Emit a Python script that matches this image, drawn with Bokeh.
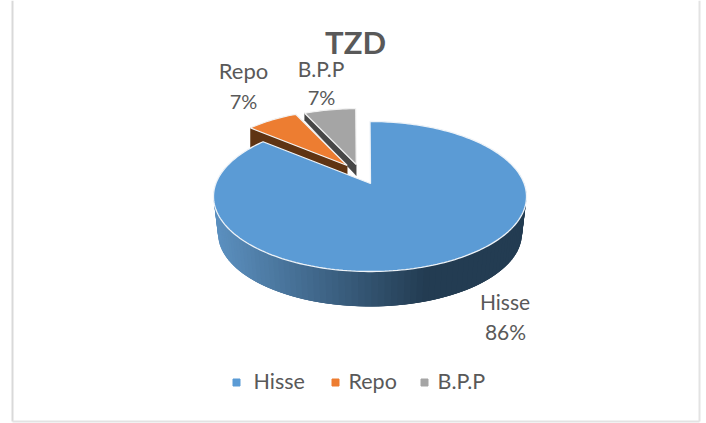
import math
from bokeh.plotting import figure
from bokeh.embed import file_html
from bokeh.resources import INLINE
from bokeh.core.properties import value

# ---- data
categories = ["Hisse", "Repo", "B.P.P"]
values = [86, 7, 7]
labels = ["86%", "7%", "7%"]
colors = ["#5b9bd5", "#ed7d31", "#a5a5a5"]
wall_colors = ["#2d4f70", "#5f3413", "#474747"]
title = "TZD"

# ---- layout (pixels of the 706x423 page)
W, H = 706, 423
CX, CY, RX, RY = 369.5, 196.0, 156.5, 75.0   # top ellipse
BOT_CY, BOT_RX, BOT_RY = 233.0, 152.0, 73.0  # bottom ellipse of the side
PERSP = 13.0 / 75.0                          # apex offset of the perspective
SHRINK = 0.9                                 # small slices are further away
APEX = {"Hisse": (370, 183), "Repo": (346.7, 165), "B.P.P": (355.7, 164)}
TEXT = "#595959"
FONT = "Lato"

p = figure(width=W, height=H, x_range=(0, W), y_range=(H, 0), toolbar_location=None,
           output_backend="svg", min_border=0, outline_line_color=None,
           background_fill_color="white", border_fill_color="white",
           margin=0)
p.axis.visible = False
p.grid.visible = False


def unit(theta):
    """Perspective point on the unit ellipse for clockwise angle from 12 o'clock."""
    x, u = math.sin(theta), math.cos(theta)
    d = 1 + PERSP * u
    return math.sqrt(1 - PERSP ** 2) * x / d, (u + PERSP) / d


def mix(a, b, t):
    ca = [int(a[i:i + 2], 16) for i in (1, 3, 5)]
    cb = [int(b[i:i + 2], 16) for i in (1, 3, 5)]
    return "#%02x%02x%02x" % tuple(round(x + (y - x) * t) for x, y in zip(ca, cb))


total = sum(values)
angles = [0.0]
for v in values:
    angles.append(angles[-1] + 2 * math.pi * v / total)

# page frame
p.line([12, 12], [0, 421], line_color="#d9d9d9", line_width=2)
p.line([12, 699], [421, 421], line_color="#e3e3e3", line_width=2)
p.line([699, 699], [0, 421], line_color="#e3e3e3", line_width=2)


def small_slice(i, depth_rim, depth_apex):
    a0, a1 = angles[i], angles[i + 1]
    ax, ay = APEX[categories[i]]
    n = 16
    rim = []
    # the rim is shaped like the main ellipse, relative to the main apex
    for k in range(n + 1):
        X, Y = unit(a0 + (a1 - a0) * k / n)
        px = CX + RX * X - APEX["Hisse"][0]
        py = CY - RY * Y - APEX["Hisse"][1]
        rim.append((ax + SHRINK * px, ay + SHRINK * py))
    # left wall
    x0, y0 = rim[0]
    p.patch([x0, ax, ax, x0], [y0, ay, ay + depth_apex, y0 + depth_rim],
            fill_color=wall_colors[i], line_color=wall_colors[i], line_width=0.5)
    p.patch([ax] + [q[0] for q in rim], [ay] + [q[1] for q in rim],
            fill_color=colors[i], line_color="#f2f2f2", line_width=1.2)


small_slice(2, 7, 11)
small_slice(1, 28, 28)

# Hisse: side, painted as overlapping bands from the far right end to the left
a0, a1 = angles[0], angles[1]
xs, ys, cs = [], [], []
N = 150
for k in range(N):
    t0 = a0 + (a1 - a0) * k / N
    X0, Y0 = unit(t0)
    if Y0 > 0.35:
        continue
    t1 = a0 + (a1 - a0) * min(k + 3, N) / N
    X1, Y1 = unit(t1)
    xs.append([CX + RX * X0, CX + RX * X1, CX + BOT_RX * X1, CX + BOT_RX * X0])
    ys.append([CY - RY * Y0, CY - RY * Y1, BOT_CY - BOT_RY * Y1, BOT_CY - BOT_RY * Y0])
    g = min(1.0, max(0.0, (X0 + 0.97) / 1.35))
    cs.append(mix("#5b8fbe", "#233c52", g))
p.patches(xs, ys, fill_color=cs, line_color=None)

# Hisse: top
rim = [unit(a0 + (a1 - a0) * k / 240) for k in range(241)]
ax, ay = APEX["Hisse"]
p.patch([ax] + [CX + RX * q[0] for q in rim], [ay] + [CY - RY * q[1] for q in rim],
        fill_color=colors[0], line_color="#eef3f8", line_width=1.3)


def txt(x, y, s, size, style="normal", anchor="center"):
    p.text([x], [y], text=[s], text_font=value(FONT), text_font_size=size,
           text_font_style=style, text_color=TEXT, text_align=anchor, text_baseline="middle")


txt(355, 41, title, "31px", "bold")
txt(243, 70, categories[1], "22px")
txt(243, 100, labels[1], "20px")
txt(320.5, 68, categories[2], "21px")
txt(321, 96, labels[2], "20px")
txt(504.5, 301, categories[0], "21px")
txt(505, 331, labels[0], "21px")

# legend
leg_x = [236, 335, 424]
for lx, c, name in zip(leg_x, colors, categories):
    p.scatter([lx], [382], marker="square", size=7, fill_color=c, line_color=c)
    txt(lx + 17 if name == "Hisse" else lx + 13, 380, name, "21.5px", anchor="left")

open("out.html", "w").write(file_html(p, INLINE))
